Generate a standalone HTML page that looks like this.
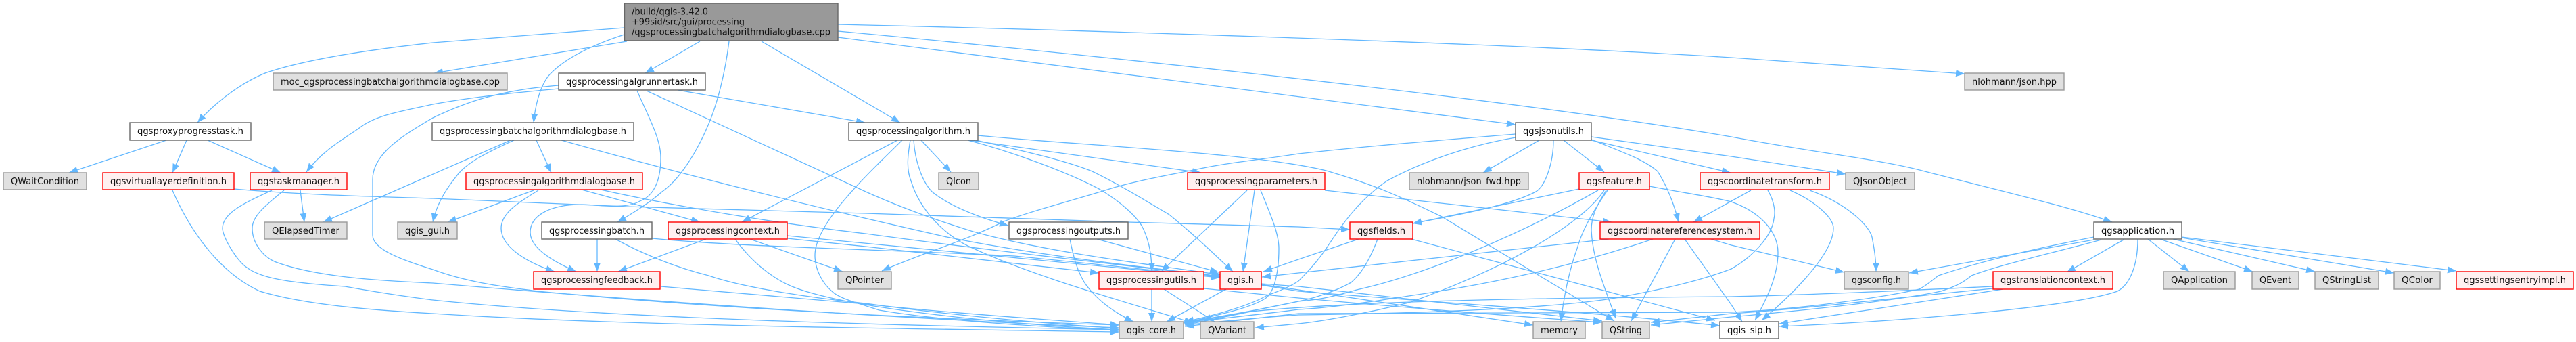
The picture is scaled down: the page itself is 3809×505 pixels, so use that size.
<!DOCTYPE html>
<html><head><meta charset="utf-8"><style>
html,body{margin:0;padding:0;background:#fff;width:3809px;height:505px;overflow:hidden}
svg{display:block}
.e path{fill:none;stroke:#63b8ff;stroke-width:1.3;marker-end:url(#a)}
text{font-family:"DejaVu Sans",sans-serif;font-size:13px;fill:#111}
.w{fill:#fff;stroke:#666;stroke-width:1.4}
.g{fill:#e0e0e0;stroke:#999;stroke-width:1.4}
.r{fill:#fff0f0;stroke:#f00;stroke-width:1.4}
.m{text-anchor:middle}
</style></head><body>
<svg xmlns="http://www.w3.org/2000/svg" width="3809" height="505" viewBox="0 0 3809 505">
<defs><marker id="a" markerUnits="userSpaceOnUse" markerWidth="14" markerHeight="11" refX="13" refY="5" orient="auto"><path d="M0,0L13,5L0,10Z" fill="#63b8ff"/></marker></defs>
<g class="e">
<path d="M923,41L640,63C540,74 450,88 392,108C350,125 312,158 292,181"/>
<path d="M927,61L642,108"/>
<path d="M923,51C880,65 835,85 811,112C797,130 791,160 789,181"/>
<path d="M1035,61L954,108"/>
<path d="M1078,61C1072,110 1060,155 1047,185C1030,225 1005,265 979,283C960,300 935,315 913,328"/>
<path d="M1126,61L1331,181"/>
<path d="M1239,55L2241,184"/>
<path d="M1239,46C1500,70 2200,140 2560,202C2680,225 2780,235 2846,253C2950,280 3060,305 3123,328"/>
<path d="M1239,36C1500,42 2200,62 2560,85L2905,109"/>
<path d="M826,131C760,137 700,143 640,154C590,165 555,170 530,190C500,210 475,225 453,254"/>
<path d="M826,126C740,133 690,150 640,174C600,198 551,225 551,265L551,347C551,370 600,385 640,398C700,420 760,425 795,430C950,445 1200,465 1655,480"/>
<path d="M942,134C960,175 977,205 977,233C977,270 965,290 946,297C925,310 880,302 860,302C810,302 784,320 784,343C784,365 815,385 852,401"/>
<path d="M956,134L1280,283C1340,310 1400,330 1439,342C1560,375 1700,390 1806,406"/>
<path d="M1002,133L1279,181"/>
<path d="M793,207L815,255"/>
<path d="M760,207C720,225 690,240 675,260C655,285 645,305 640,328"/>
<path d="M755,207L478,328"/>
<path d="M830,207C1000,255 1200,305 1400,350C1550,380 1700,395 1804,408"/>
<path d="M789,281L662,328"/>
<path d="M796,281C765,300 741,315 741,337C741,365 780,388 820,401"/>
<path d="M860,280L1035,328"/>
<path d="M888,280C1000,305 1150,330 1280,345C1500,375 1700,395 1804,409"/>
<path d="M883,353L883,401"/>
<path d="M910,353C950,375 1000,395 1048,407C1100,425 1200,440 1280,448C1400,465 1550,478 1655,485"/>
<path d="M964,352C1100,365 1300,368 1500,378C1620,390 1720,400 1804,410"/>
<path d="M1044,353L914,401"/>
<path d="M1087,353C1110,385 1140,410 1171,423C1200,435 1250,445 1280,450C1400,470 1550,482 1655,487"/>
<path d="M1109,353L1246,401"/>
<path d="M1164,348C1300,360 1500,380 1804,410"/>
<path d="M1164,352L1280,364L1625,403"/>
<path d="M977,423L1280,449C1400,462 1550,472 1655,480"/>
<path d="M1327,207L1097,328"/>
<path d="M1334,207C1280,260 1205,330 1205,377C1205,400 1218,420 1230,430C1240,440 1260,445 1300,458C1400,475 1550,483 1655,488"/>
<path d="M1362,207L1406,254"/>
<path d="M1351,207C1353,240 1365,270 1378,283C1405,305 1450,322 1491,333"/>
<path d="M1346,207C1342,230 1340,250 1347,267C1360,310 1395,345 1431,363C1530,410 1680,450 1764,477"/>
<path d="M1431,207C1500,225 1580,255 1627,280C1660,300 1680,320 1688,333C1700,355 1703,380 1703,401"/>
<path d="M1443,207C1500,220 1570,235 1615,253C1660,275 1700,300 1729,317C1770,350 1800,380 1823,401"/>
<path d="M1433,207L1776,255"/>
<path d="M1446,200C1600,215 1850,225 1961,252C2040,275 2080,295 2132,320L2387,474"/>
<path d="M1844,281L1717,401"/>
<path d="M1855,281L1838,401"/>
<path d="M1864,281C1880,320 1891,345 1891,367C1891,400 1885,430 1872,440C1850,455 1800,465 1752,477"/>
<path d="M1959,281L2383,328"/>
<path d="M1582,353C1590,395 1600,415 1611,427C1630,450 1655,465 1676,475"/>
<path d="M1622,353L1802,402"/>
<path d="M1703,427L1703,475"/>
<path d="M1721,427L1796,475"/>
<path d="M1780,426L1920,440C2050,452 2250,468 2369,476"/>
<path d="M1865,420L1920,428L2267,480"/>
<path d="M1865,419L1920,423L2369,474"/>
<path d="M1865,421L1920,430C2100,445 2350,460 2543,481"/>
<path d="M1813,427L1725,475"/>
<path d="M2241,203C2170,215 2100,240 2051,267C2010,295 1985,330 1961,367C1945,390 1930,405 1920,415C1905,425 1885,432 1872,437C1850,450 1800,465 1752,475"/>
<path d="M2241,198C2130,207 2030,215 1920,227C1870,235 1815,240 1770,250C1730,258 1690,265 1647,277C1590,295 1530,310 1484,327C1430,355 1360,375 1304,400"/>
<path d="M2276,207L2193,255"/>
<path d="M2297,207C2297,240 2285,275 2271,283C2230,305 2140,320 2089,330"/>
<path d="M2312,207L2372,254"/>
<path d="M2353,207L2559,255"/>
<path d="M2353,206C2400,225 2430,235 2451,253C2465,275 2475,300 2482,328"/>
<path d="M2353,202L2560,231L2729,257"/>
<path d="M2335,279L2089,330"/>
<path d="M2372,281C2340,330 2230,395 2083,447C2010,465 1950,475 1920,478L1856,484"/>
<path d="M2363,281C2250,345 2110,405 2006,428C1965,440 1945,443 1920,445C1870,455 1800,470 1752,477"/>
<path d="M2377,281C2350,320 2338,345 2332,367C2320,400 2312,440 2308,475"/>
<path d="M2375,281C2360,305 2353,320 2353,340C2355,385 2375,430 2389,470"/>
<path d="M2439,275C2490,285 2530,290 2560,298C2600,312 2629,340 2629,373C2629,410 2610,445 2595,473"/>
<path d="M2009,353L1920,383L1868,401"/>
<path d="M2037,353C2025,385 2012,405 1998,417C1975,430 1945,440 1920,445C1860,458 1800,468 1752,476"/>
<path d="M2087,353L2536,473"/>
<path d="M2379,353L1920,403L1866,409"/>
<path d="M2444,353C2320,395 2200,420 2083,437C2020,447 1960,455 1920,457C1860,465 1800,470 1752,478"/>
<path d="M2477,353L2412,474"/>
<path d="M2491,353L2560,450L2576,475"/>
<path d="M2530,353L2560,362L2727,402"/>
<path d="M2589,281L2560,297L2504,328"/>
<path d="M2614,281C2625,300 2625,315 2623,323C2620,350 2590,380 2560,397C2500,420 2430,432 2389,440C2300,455 2100,463 1920,465C1850,470 1800,475 1752,480"/>
<path d="M2647,281C2680,295 2711,320 2711,337C2711,375 2650,435 2605,473"/>
<path d="M2676,281C2730,300 2764,333 2768,350C2772,370 2774,385 2774,401"/>
<path d="M3096,354L2823,403"/>
<path d="M3096,350C3020,365 2930,385 2866,407C2850,420 2845,423 2838,427C2780,440 2650,458 2560,461C2300,462 2100,463 1920,463L1752,482"/>
<path d="M3107,354C3030,375 2960,390 2915,407C2900,420 2885,425 2870,430C2800,445 2650,460 2560,468L2441,480"/>
<path d="M3140,354L3056,402"/>
<path d="M3161,353C3161,390 3150,420 3131,430C3060,455 2800,475 2631,482"/>
<path d="M3176,353L3237,401"/>
<path d="M3194,353L3331,401"/>
<path d="M3213,353L3423,401"/>
<path d="M3226,351L3540,403"/>
<path d="M3226,350L3632,400"/>
<path d="M2947,423C2800,430 2650,436 2560,438C2250,440 2000,445 1850,460L1752,480"/>
<path d="M2947,426C2800,440 2650,458 2560,463L2441,476"/>
<path d="M2962,427L2631,478"/>
<path d="M255,281C285,350 330,405 384,430C450,450 550,458 640,463C900,480 1300,485 1655,490"/>
<path d="M346,279C450,288 550,290 640,293L926,305L1280,315L1668,328L1920,335L1996,339"/>
<path d="M444,281L450,328"/>
<path d="M420,281C390,305 373,320 373,337C373,360 390,380 408,387C470,410 570,415 640,418C900,440 1300,470 1655,484"/>
<path d="M402,281C360,300 329,315 329,337C329,350 350,385 365,395C385,410 420,417 510,423C560,432 600,438 640,443C900,470 1300,480 1655,487"/>
<path d="M246,207L102,255"/>
<path d="M276,207L255,255"/>
<path d="M307,207L415,255"/>
</g>
<rect x="923.5" y="5" width="315.5" height="55" fill="#999" stroke="#666" stroke-width="1.4"/>
<text x="934" y="21.5" textLength="113" lengthAdjust="spacingAndGlyphs">/build/qgis-3.42.0</text>
<text x="934" y="36.5" textLength="167" lengthAdjust="spacingAndGlyphs">+99sid/src/gui/processing</text>
<text x="934" y="51.5" textLength="294" lengthAdjust="spacingAndGlyphs">/qgsprocessingbatchalgorithmdialogbase.cpp</text>
<rect class="g" x="404" y="108" width="346" height="25"/><text x="415" y="125" textLength="324" lengthAdjust="spacingAndGlyphs">moc_qgsprocessingbatchalgorithmdialogbase.cpp</text>
<rect class="w" x="826" y="108" width="217" height="25"/><text x="837" y="125" textLength="195" lengthAdjust="spacingAndGlyphs">qgsprocessingalgrunnertask.h</text>
<rect class="g" x="2905" y="108" width="147" height="25"/><text x="2916" y="125" textLength="125" lengthAdjust="spacingAndGlyphs">nlohmann/json.hpp</text>
<rect class="w" x="192" y="181" width="179" height="26"/><text x="203" y="198" textLength="157" lengthAdjust="spacingAndGlyphs">qgsproxyprogresstask.h</text>
<rect class="w" x="639" y="181" width="298" height="26"/><text x="650" y="198" textLength="276" lengthAdjust="spacingAndGlyphs">qgsprocessingbatchalgorithmdialogbase.h</text>
<rect class="w" x="1255" y="181" width="191" height="26"/><text x="1266" y="198" textLength="169" lengthAdjust="spacingAndGlyphs">qgsprocessingalgorithm.h</text>
<rect class="w" x="2241" y="181" width="112" height="26"/><text x="2252" y="198" textLength="90" lengthAdjust="spacingAndGlyphs">qgsjsonutils.h</text>
<rect class="g" x="5" y="255" width="123" height="25"/><text x="16" y="272" textLength="101" lengthAdjust="spacingAndGlyphs">QWaitCondition</text>
<rect class="r" x="152" y="255" width="194" height="25"/><text x="163" y="272" textLength="172" lengthAdjust="spacingAndGlyphs">qgsvirtuallayerdefinition.h</text>
<rect class="r" x="370" y="255" width="143" height="25"/><text x="381" y="272" textLength="121" lengthAdjust="spacingAndGlyphs">qgstaskmanager.h</text>
<rect class="r" x="689" y="255" width="261" height="25"/><text x="700" y="272" textLength="239" lengthAdjust="spacingAndGlyphs">qgsprocessingalgorithmdialogbase.h</text>
<rect class="g" x="1388" y="255" width="59" height="25"/><text x="1399" y="272" textLength="37" lengthAdjust="spacingAndGlyphs">QIcon</text>
<rect class="r" x="1756" y="255" width="203" height="25"/><text x="1767" y="272" textLength="181" lengthAdjust="spacingAndGlyphs">qgsprocessingparameters.h</text>
<rect class="g" x="2084" y="255" width="176" height="25"/><text x="2095" y="272" textLength="154" lengthAdjust="spacingAndGlyphs">nlohmann/json_fwd.hpp</text>
<rect class="r" x="2335" y="255" width="104" height="25"/><text x="2346" y="272" textLength="82" lengthAdjust="spacingAndGlyphs">qgsfeature.h</text>
<rect class="r" x="2514" y="255" width="191" height="25"/><text x="2525" y="272" textLength="169" lengthAdjust="spacingAndGlyphs">qgscoordinatetransform.h</text>
<rect class="g" x="2729" y="255" width="102" height="25"/><text x="2740" y="272" textLength="80" lengthAdjust="spacingAndGlyphs">QJsonObject</text>
<rect class="g" x="391" y="328" width="122" height="25"/><text x="402" y="345" textLength="100" lengthAdjust="spacingAndGlyphs">QElapsedTimer</text>
<rect class="g" x="588" y="328" width="88" height="25"/><text x="599" y="345" textLength="66" lengthAdjust="spacingAndGlyphs">qgis_gui.h</text>
<rect class="w" x="801" y="328" width="163" height="25"/><text x="812" y="345" textLength="141" lengthAdjust="spacingAndGlyphs">qgsprocessingbatch.h</text>
<rect class="r" x="988" y="328" width="176" height="25"/><text x="999" y="345" textLength="154" lengthAdjust="spacingAndGlyphs">qgsprocessingcontext.h</text>
<rect class="w" x="1492" y="328" width="176" height="25"/><text x="1503" y="345" textLength="154" lengthAdjust="spacingAndGlyphs">qgsprocessingoutputs.h</text>
<rect class="r" x="1996" y="328" width="93" height="25"/><text x="2007" y="345" textLength="71" lengthAdjust="spacingAndGlyphs">qgsfields.h</text>
<rect class="r" x="2366" y="328" width="236" height="25"/><text x="2377" y="345" textLength="214" lengthAdjust="spacingAndGlyphs">qgscoordinatereferencesystem.h</text>
<rect class="w" x="3096" y="328" width="130" height="25"/><text x="3107" y="345" textLength="108" lengthAdjust="spacingAndGlyphs">qgsapplication.h</text>
<rect class="r" x="789" y="401" width="187" height="26"/><text x="800" y="418" textLength="165" lengthAdjust="spacingAndGlyphs">qgsprocessingfeedback.h</text>
<rect class="g" x="1239" y="401" width="79" height="26"/><text x="1250" y="418" textLength="57" lengthAdjust="spacingAndGlyphs">QPointer</text>
<rect class="r" x="1625" y="401" width="155" height="26"/><text x="1636" y="418" textLength="133" lengthAdjust="spacingAndGlyphs">qgsprocessingutils.h</text>
<rect class="r" x="1804" y="401" width="61" height="26"/><text x="1815" y="418" textLength="39" lengthAdjust="spacingAndGlyphs">qgis.h</text>
<rect class="g" x="2727" y="401" width="95" height="26"/><text x="2738" y="418" textLength="73" lengthAdjust="spacingAndGlyphs">qgsconfig.h</text>
<rect class="r" x="2947" y="401" width="177" height="26"/><text x="2958" y="418" textLength="155" lengthAdjust="spacingAndGlyphs">qgstranslationcontext.h</text>
<rect class="g" x="3199" y="401" width="106" height="26"/><text x="3210" y="418" textLength="84" lengthAdjust="spacingAndGlyphs">QApplication</text>
<rect class="g" x="3330" y="401" width="69" height="26"/><text x="3341" y="418" textLength="47" lengthAdjust="spacingAndGlyphs">QEvent</text>
<rect class="g" x="3423" y="401" width="94" height="26"/><text x="3434" y="418" textLength="72" lengthAdjust="spacingAndGlyphs">QStringList</text>
<rect class="g" x="3540" y="401" width="68" height="26"/><text x="3551" y="418" textLength="46" lengthAdjust="spacingAndGlyphs">QColor</text>
<rect class="r" x="3632" y="401" width="173" height="26"/><text x="3643" y="418" textLength="151" lengthAdjust="spacingAndGlyphs">qgssettingsentryimpl.h</text>
<rect class="g" x="1655" y="475" width="95" height="25"/><text x="1666" y="492" textLength="73" lengthAdjust="spacingAndGlyphs">qgis_core.h</text>
<rect class="g" x="1775" y="475" width="79" height="25"/><text x="1786" y="492" textLength="57" lengthAdjust="spacingAndGlyphs">QVariant</text>
<rect class="g" x="2267" y="475" width="77" height="25"/><text x="2278" y="492" textLength="55" lengthAdjust="spacingAndGlyphs">memory</text>
<rect class="g" x="2369" y="475" width="70" height="25"/><text x="2380" y="492" textLength="48" lengthAdjust="spacingAndGlyphs">QString</text>
<rect class="w" x="2543" y="475" width="87" height="25"/><text x="2554" y="492" textLength="65" lengthAdjust="spacingAndGlyphs">qgis_sip.h</text>
</svg>
</body></html>
